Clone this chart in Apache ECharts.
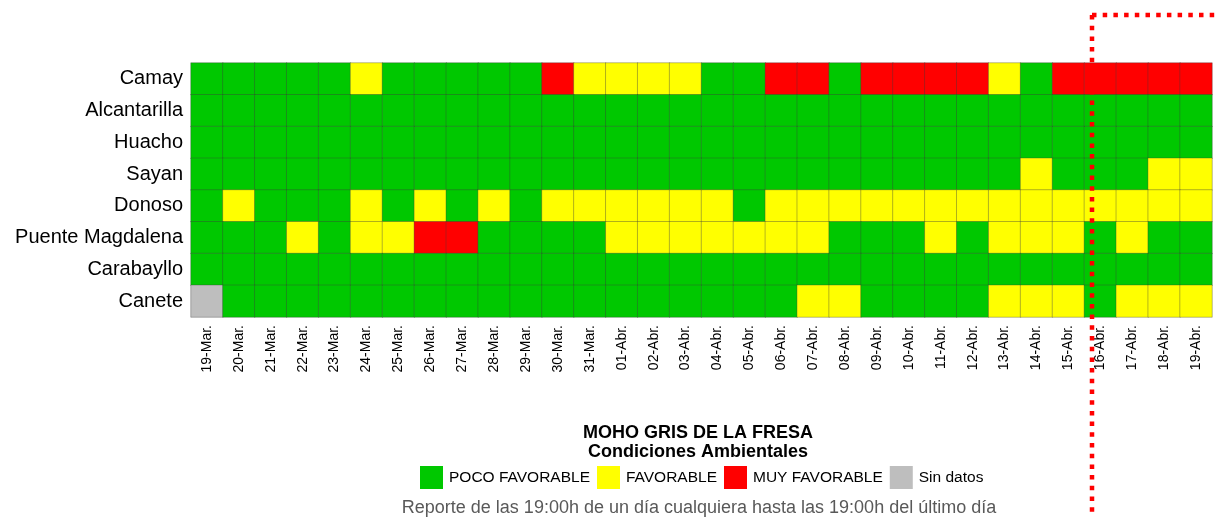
<!DOCTYPE html>
<html>
<head>
<meta charset="utf-8">
<style>
  html, body { margin: 0; padding: 0; background: #ffffff; }
  #chart { width: 1218px; height: 518px; }
</style>
<script src="https://cdn.jsdelivr.net/npm/echarts@6/dist/echarts.min.js"></script>
</head>
<body>
<div id="chart"></div>
<script>
// fechas (columnas)
var dias = ['19-Mar.', '20-Mar.', '21-Mar.', '22-Mar.', '23-Mar.', '24-Mar.', '25-Mar.', '26-Mar.',
    '27-Mar.', '28-Mar.', '29-Mar.', '30-Mar.', '31-Mar.', '01-Abr.', '02-Abr.', '03-Abr.',
    '04-Abr.', '05-Abr.', '06-Abr.', '07-Abr.', '08-Abr.', '09-Abr.', '10-Abr.', '11-Abr.',
    '12-Abr.', '13-Abr.', '14-Abr.', '15-Abr.', '16-Abr.', '17-Abr.', '18-Abr.', '19-Abr.'];

// estaciones (filas)
var estaciones = ['Camay', 'Alcantarilla', 'Huacho', 'Sayan', 'Donoso', 'Puente Magdalena', 'Carabayllo', 'Canete'];

// 0 = poco favorable, 1 = favorable, 2 = muy favorable, 3 = sin datos
var camay        = [0,0,0,0,0,1,0,0,0,0,0,2,1,1,1,1,0,0,2,2,0,2,2,2,2,1,0,2,2,2,2,2];
var alcantarilla = [0,0,0,0,0,0,0,0,0,0,0,0,0,0,0,0,0,0,0,0,0,0,0,0,0,0,0,0,0,0,0,0];
var huacho       = [0,0,0,0,0,0,0,0,0,0,0,0,0,0,0,0,0,0,0,0,0,0,0,0,0,0,0,0,0,0,0,0];
var sayan        = [0,0,0,0,0,0,0,0,0,0,0,0,0,0,0,0,0,0,0,0,0,0,0,0,0,0,1,0,0,0,1,1];
var donoso       = [0,1,0,0,0,1,0,1,0,1,0,1,1,1,1,1,1,0,1,1,1,1,1,1,1,1,1,1,1,1,1,1];
var puenteMagd   = [0,0,0,1,0,1,1,2,2,0,0,0,0,1,1,1,1,1,1,1,0,0,0,1,0,1,1,1,0,1,0,0];
var carabayllo   = [0,0,0,0,0,0,0,0,0,0,0,0,0,0,0,0,0,0,0,0,0,0,0,0,0,0,0,0,0,0,0,0];
var canete       = [3,0,0,0,0,0,0,0,0,0,0,0,0,0,0,0,0,0,0,1,1,0,0,0,0,1,1,1,0,1,1,1];

var filas = [camay, alcantarilla, huacho, sayan, donoso, puenteMagd, carabayllo, canete];

var datos = [];
filas.forEach(function (fila, j) {
    fila.forEach(function (v, i) {
        datos.push([i, j, v]);
    });
});

(function () {
    var myChart = echarts.init(document.getElementById('chart'));
    var fuente = 'Liberation Sans, Arial, sans-serif';
    var centro = 699;

    var option = {
        animation: false,
        backgroundColor: '#ffffff',
        textStyle: { fontFamily: fuente },
        title: {
            text: 'MOHO GRIS DE LA FRESA\nCondiciones Ambientales',
            left: centro - 6,
            top: 419,
            textAlign: 'center',
            textStyle: {
                color: '#000000',
                fontFamily: fuente,
                fontWeight: 'bold',
                fontSize: 18,
                lineHeight: 19
            }
        },
        grid: {
            left: 191,
            right: 6,
            top: 63,
            bottom: 201
        },
        xAxis: {
            type: 'category',
            data: dias,
            axisLine: { show: false },
            axisTick: { show: false },
            axisLabel: {
                interval: 0,
                rotate: 90,
                margin: 8,
                color: '#000000',
                fontSize: 14,
                fontFamily: fuente
            }
        },
        yAxis: {
            type: 'category',
            data: estaciones,
            inverse: true,
            axisLine: { show: false },
            axisTick: { show: false },
            axisLabel: {
                margin: 8,
                color: '#000000',
                fontSize: 20,
                fontFamily: fuente
            }
        },
        visualMap: {
            type: 'piecewise',
            dimension: 2,
            orient: 'horizontal',
            left: 405,
            top: 451,
            itemWidth: 23,
            itemHeight: 23,
            itemGap: 7,
            textGap: 6,
            itemSymbol: 'rect',
            selectedMode: false,
            textStyle: {
                color: '#000000',
                fontSize: 15.5,
                fontFamily: fuente
            },
            pieces: [
                { value: 0, label: 'POCO FAVORABLE', color: '#00C800' },
                { value: 1, label: 'FAVORABLE', color: '#FFFF00' },
                { value: 2, label: 'MUY FAVORABLE', color: '#FF0000' },
                { value: 3, label: 'Sin datos', color: '#BEBEBE' }
            ]
        },
        graphic: [
            {
                type: 'text',
                x: centro,
                y: 508,
                style: {
                    text: 'Reporte de las 19:00h de un día cualquiera hasta las 19:00h del último día',
                    fill: '#595959',
                    fontSize: 18,
                    fontFamily: fuente,
                    align: 'center',
                    verticalAlign: 'middle'
                }
            },
            // marco punteado rojo
            {
                type: 'polyline',
                shape: { points: [[1092, 15], [1092, 518]] },
                style: { stroke: '#FF0000', lineWidth: 4.5, lineDash: [4.5, 6.2], fill: null },
                z: 100
            },
            {
                type: 'polyline',
                shape: { points: [[1092, 15], [1218, 15]] },
                style: { stroke: '#FF0000', lineWidth: 4.5, lineDash: [4.5, 6.2], fill: null },
                z: 100
            }
        ],
        series: [
            {
                type: 'heatmap',
                data: datos,
                itemStyle: {
                    borderColor: 'rgba(60, 60, 60, 0.35)',
                    borderWidth: 1
                },
                emphasis: { disabled: true }
            }
        ]
    };
    myChart.setOption(option);
    window.addEventListener('resize', function () {
        myChart.resize();
    });
})();
</script>
</body>
</html>
